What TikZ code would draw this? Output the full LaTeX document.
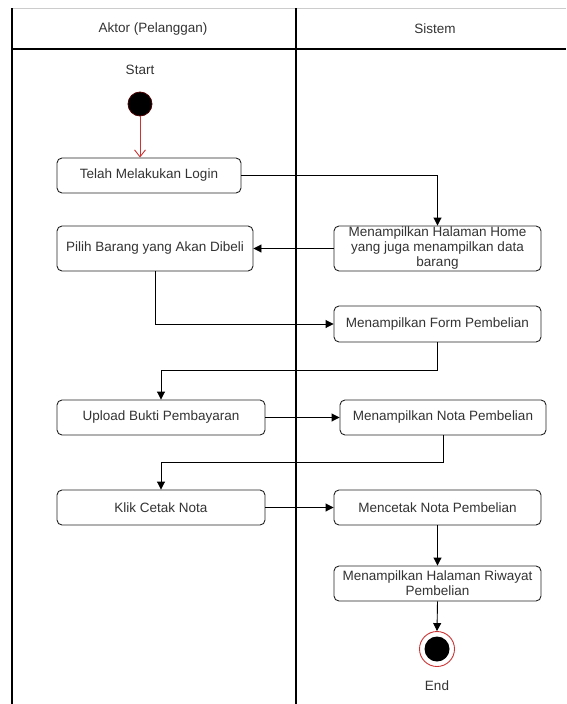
\documentclass[tikz,border=0pt]{standalone}
\usepackage{fontspec}
\setmainfont{Liberation Sans}
\usetikzlibrary{arrows.meta}
\definecolor{txt}{HTML}{333333}
\definecolor{edge}{HTML}{222222}
\definecolor{redline}{HTML}{CC3333}
\begin{document}
\begin{tikzpicture}[x=1pt,y=-1pt,
  font=\fontsize{13.5}{15}\selectfont,
  actbox/.style={draw=edge, line width=0.9pt, rounded corners=5pt, fill=white, text=txt, align=center, inner sep=1pt},
  arr/.style={draw=black, line width=0.9pt, -{Triangle[length=8pt,width=8pt]}},
  lane/.style={draw=black, line width=1.3pt}]
\useasboundingbox (0,0) rectangle (566,704);
% swimlanes
\draw[draw=gray!40, line width=1pt] (12,8) -- (566,8);
\draw[lane] (12,49) -- (566,49);
\draw[lane] (12,8) -- (12,704);
\draw[lane] (296,8) -- (296,704);
\node[text=txt] (h1) at (153,29) {Aktor (Pelanggan)};
\node[text=txt] (h2) at (435,29) {Sistem};
% start
\node[text=txt] (startlbl) at (140,70) {Start};
\node[circle, fill=black, draw=black!70!red, line width=0.8pt, minimum size=24pt, inner sep=0pt] (start) at (140,104) {};
% activities
\node[actbox, minimum width=184pt, minimum height=35pt] (login) at (149,175.5) {Telah Melakukan Login};
\node[actbox, minimum width=196pt, minimum height=45pt] (pilih) at (155,248.5) {Pilih Barang yang Akan Dibeli};
\node[actbox, minimum width=207pt, minimum height=45pt, inner sep=0pt] (home) at (437.5,248.5) {Menampilkan Halaman Home\\yang juga menampilkan data\\barang};
\node[actbox, minimum width=207pt, minimum height=36pt] (form) at (437.5,324) {Menampilkan Form Pembelian};
\node[actbox, minimum width=208pt, minimum height=35pt] (upload) at (161,417.5) {Upload Bukti Pembayaran};
\node[actbox, minimum width=206pt, minimum height=35pt] (nota) at (443,417.5) {Menampilkan Nota Pembelian};
\node[actbox, minimum width=208pt, minimum height=35pt] (klik) at (161,507.5) {Klik Cetak Nota};
\node[actbox, minimum width=207pt, minimum height=35pt] (cetak) at (437.5,507.5) {Mencetak Nota Pembelian};
\node[actbox, minimum width=207pt, minimum height=35pt, inner sep=0pt] (riwayat) at (437.5,583.5) {Menampilkan Halaman Riwayat\\Pembelian};
% end
\node[circle, draw=redline, line width=0.9pt, fill=white, minimum size=35pt, inner sep=0pt] (end) at (437,649) {};
\node[circle, fill=black, minimum size=25pt, inner sep=0pt] (endin) at (437,649) {};
\node[text=txt] (endlbl) at (437,686) {End};
% connectors
\draw[draw=redline, line width=0.9pt, -{Straight Barb[length=7pt,width=11pt]}] (start.south) -- (login.north -| start.south);
\draw[arr] (login.east) -| (home.north);
\draw[arr] (home.west) -- (pilih.east);
\draw[arr] (pilih.south) |- (form.west);
\coordinate (c1) at (437.5,370);
\draw[arr] (form.south) -- (c1) -| (upload.north);
\coordinate (c2) at (443,462);
\draw[arr] (nota.south) -- (c2) -| (klik.north);
\draw[arr] (upload.east) -- (nota.west);
\draw[arr] (klik.east) -- (cetak.west);
\draw[arr] (cetak.south) -- (riwayat.north);
\draw[arr] (riwayat.south) -- (end.north);
\end{tikzpicture}
\end{document}
